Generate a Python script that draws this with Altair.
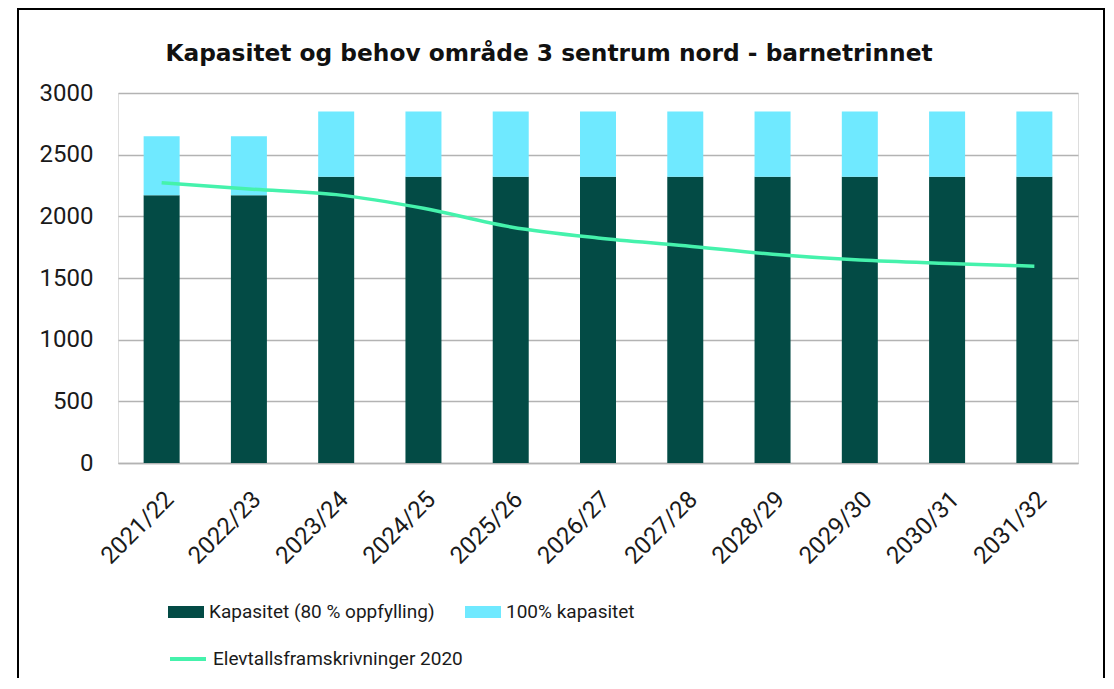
import altair as alt
import pandas as pd

years = ["2021/22", "2022/23", "2023/24", "2024/25", "2025/26", "2026/27",
         "2027/28", "2028/29", "2029/30", "2030/31", "2031/32"]
kap80 = [2170, 2170, 2320, 2320, 2320, 2320, 2320, 2320, 2320, 2320, 2320]
kap100 = [2650, 2650, 2850, 2850, 2850, 2850, 2850, 2850, 2850, 2850, 2850]
elev = [2273, 2222, 2176, 2065, 1914, 1825, 1762, 1693, 1645, 1618, 1596]

s80 = "Kapasitet (80 % oppfylling)"
s100 = "100% kapasitet"
sline = "Elevtallsframskrivninger 2020"
title = "Kapasitet og behov område 3 sentrum nord - barnetrinnet"

FONT = "Roboto"
TFONT = "DejaVu Sans"

rows = []
for y, a, b in zip(years, kap80, kap100):
    rows.append({"year": y, "series": s80, "start": 0, "end": a, "order": 0})
    rows.append({"year": y, "series": s100, "start": a, "end": b, "order": 1})
bars_df = pd.DataFrame(rows)
line_df = pd.DataFrame({"year": years, "value": elev, "series": sline})

xenc = alt.X("year:N", sort=years, title=None,
             scale=alt.Scale(paddingInner=0, paddingOuter=0),
             axis=alt.Axis(labelAngle=-45, labelFontSize=24, labelFont=FONT,
                           labelColor="#1a1a1a", ticks=False, domainColor="#b3b3b3",
                           domainWidth=1.5, labelPadding=24, grid=False))

bars = alt.Chart(bars_df).mark_bar(size=36).encode(
    x=xenc,
    y=alt.Y("start:Q", title=None,
            scale=alt.Scale(domain=[0, 3000], nice=False),
            axis=alt.Axis(values=[0, 500, 1000, 1500, 2000, 2500, 3000], format="d",
                          labelFontSize=24, labelFont=FONT, labelColor="#1a1a1a",
                          ticks=False, domain=False, grid=True,
                          gridColor="#b3b3b3", gridWidth=1.5, labelPadding=25)),
    y2="end:Q",
    fill=alt.Fill("series:N",
                  scale=alt.Scale(domain=[s80, s100], range=["#034b45", "#6fe9ff"]),
                  legend=alt.Legend(title=None, orient="none", legendX=50, legendY=501,
                                    direction="horizontal", columns=2, columnPadding=30,
                                    symbolType="M-1,-0.333H1V0.333H-1Z", symbolSize=1296,
                                    symbolStrokeWidth=0, labelFontSize=19, labelFont=FONT,
                                    labelColor="#1a1a1a", labelOffset=5, labelLimit=0)),
    order=alt.Order("order:Q"),
)

line = alt.Chart(line_df).mark_line(interpolate="monotone", strokeWidth=3.5).encode(
    x=alt.X("year:N", sort=years),
    y=alt.Y("value:Q"),
    stroke=alt.Stroke("series:N",
                      scale=alt.Scale(domain=[sline], range=["#45f2ac"]),
                      legend=alt.Legend(title=None, orient="none", legendX=50, legendY=546,
                                        symbolType="stroke", symbolSize=1296,
                                        symbolStrokeWidth=4, labelFontSize=19,
                                        labelFont=FONT, labelColor="#1a1a1a",
                                        labelOffset=5, labelLimit=0)),
)

border = alt.Chart(alt.Data(values=[{"a": 1}])).mark_rect(
    fill=None, stroke="black", strokeWidth=2).encode(
    x=alt.value(-100), x2=alt.value(986), y=alt.value(-84), y2=alt.value(640))

title_text = alt.Chart(alt.Data(values=[{"t": title}])).mark_text(
    font=TFONT, fontSize=23.3, fontWeight="bold", color="#111111",
    align="center", baseline="middle").encode(
    text="t:N", x=alt.value(431), y=alt.value(-39))

chart = alt.layer(border, bars, line, title_text).resolve_scale(
    fill="independent", stroke="independent").properties(
    width=960, height=370,
    autosize=alt.AutoSizeParams(type="none"),
    padding={"left": 110, "top": 85, "right": 27, "bottom": 215},
).configure_view(stroke=None).configure(background="white")

chart.save("out.html", embed_options={"renderer": "svg", "actions": False})
